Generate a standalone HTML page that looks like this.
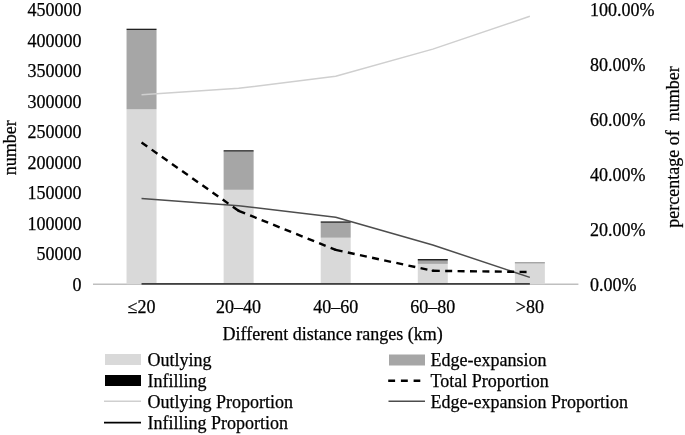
<!DOCTYPE html>
<html><head><meta charset="utf-8"><style>
html,body{margin:0;padding:0;background:#fff;width:685px;height:435px;overflow:hidden}
svg{display:block;will-change:transform}
text{font-family:"Liberation Serif",serif;font-size:18px;fill:#000;stroke:#000;stroke-width:0.25px}
</style></head><body>
<svg width="685" height="435" viewBox="0 0 685 435">
<line x1="93.0" y1="284.2" x2="578.4" y2="284.2" stroke="#bfbfbf" stroke-width="1.5"/>
<rect x="126.54" y="109.30" width="30.00" height="174.90" fill="#d9d9d9"/>
<rect x="126.54" y="30.00" width="30.00" height="79.30" fill="#a6a6a6"/>
<rect x="126.54" y="28.70" width="30.00" height="1.30" fill="#222"/>
<rect x="223.62" y="189.80" width="30.00" height="94.40" fill="#d9d9d9"/>
<rect x="223.62" y="151.60" width="30.00" height="38.20" fill="#a6a6a6"/>
<rect x="223.62" y="150.20" width="30.00" height="1.40" fill="#222"/>
<rect x="320.70" y="237.70" width="30.00" height="46.50" fill="#d9d9d9"/>
<rect x="320.70" y="222.80" width="30.00" height="14.90" fill="#a6a6a6"/>
<rect x="320.70" y="221.40" width="30.00" height="1.40" fill="#222"/>
<rect x="417.78" y="263.90" width="30.00" height="20.30" fill="#d9d9d9"/>
<rect x="417.78" y="260.60" width="30.00" height="3.30" fill="#a6a6a6"/>
<rect x="417.78" y="259.00" width="30.00" height="1.60" fill="#222"/>
<rect x="514.86" y="263.60" width="30.00" height="20.60" fill="#d9d9d9"/>
<rect x="514.86" y="262.00" width="30.00" height="1.60" fill="#a6a6a6"/>
<path d="M141.54,94.70 L238.62,88.30 L335.70,76.20 L432.78,49.10 L529.86,16.30" fill="none" stroke-linejoin="round" stroke="#cfcfcf" stroke-width="1.5"/>
<path d="M141.54,198.60 L238.62,205.70 L335.70,217.20 L432.78,245.00 L529.86,277.40" fill="none" stroke-linejoin="round" stroke="#4d4d4d" stroke-width="1.5"/>
<line x1="141.54" y1="142.50" x2="238.62" y2="210.80" stroke="#000" stroke-width="2.4" stroke-dasharray="7,5.4"/>
<line x1="238.62" y1="210.80" x2="335.70" y2="249.90" stroke="#000" stroke-width="2.4" stroke-dasharray="7,5.4"/>
<line x1="335.70" y1="249.90" x2="432.78" y2="270.80" stroke="#000" stroke-width="2.4" stroke-dasharray="7,5.4"/>
<line x1="432.78" y1="270.80" x2="529.86" y2="272.00" stroke="#000" stroke-width="2.4" stroke-dasharray="7,5.4"/>
<circle cx="238.62" cy="210.80" r="1.2" fill="#000"/>
<circle cx="335.70" cy="249.90" r="1.2" fill="#000"/>
<circle cx="432.78" cy="270.80" r="1.2" fill="#000"/>
<path d="M141.54,283.90 L238.62,283.90 L335.70,283.90 L432.78,283.90 L529.86,283.90" fill="none" stroke-linejoin="round" stroke="#404040" stroke-width="1.6"/>
<text x="81.6" y="10.10" text-anchor="end" dominant-baseline="central">450000</text>
<text x="81.6" y="40.60" text-anchor="end" dominant-baseline="central">400000</text>
<text x="81.6" y="71.10" text-anchor="end" dominant-baseline="central">350000</text>
<text x="81.6" y="101.60" text-anchor="end" dominant-baseline="central">300000</text>
<text x="81.6" y="132.10" text-anchor="end" dominant-baseline="central">250000</text>
<text x="81.6" y="162.60" text-anchor="end" dominant-baseline="central">200000</text>
<text x="81.6" y="193.10" text-anchor="end" dominant-baseline="central">150000</text>
<text x="81.6" y="223.60" text-anchor="end" dominant-baseline="central">100000</text>
<text x="81.6" y="254.10" text-anchor="end" dominant-baseline="central">50000</text>
<text x="81.6" y="284.60" text-anchor="end" dominant-baseline="central">0</text>
<text x="589.9" y="10.20" dominant-baseline="central">100.00%</text>
<text x="589.9" y="65.10" dominant-baseline="central">80.00%</text>
<text x="589.9" y="120.00" dominant-baseline="central">60.00%</text>
<text x="589.9" y="174.90" dominant-baseline="central">40.00%</text>
<text x="589.9" y="229.80" dominant-baseline="central">20.00%</text>
<text x="589.9" y="284.70" dominant-baseline="central">0.00%</text>
<text x="141.54" y="313.2" text-anchor="middle">&#8804;20</text>
<text x="238.62" y="313.2" text-anchor="middle">20&#8211;40</text>
<text x="335.70" y="313.2" text-anchor="middle">40&#8211;60</text>
<text x="432.78" y="313.2" text-anchor="middle">60&#8211;80</text>
<text x="529.86" y="313.2" text-anchor="middle">&gt;80</text>
<text x="332.6" y="339.5" text-anchor="middle">Different distance ranges (km)</text>
<text transform="translate(15.9,147.7) rotate(-90)" text-anchor="middle" style="font-size:18px">number</text>
<text transform="translate(678.9,147.0) rotate(-90)" text-anchor="middle" xml:space="preserve" style="font-size:18px">percentage of  number</text>
<rect x="105" y="354" width="36" height="11" fill="#d9d9d9"/>
<text x="147.5" y="365.5">Outlying</text>
<rect x="105" y="375" width="36" height="11" fill="#000"/>
<text x="147.5" y="386.5">Infilling</text>
<line x1="104" y1="401.3" x2="141" y2="401.3" stroke="#cfcfcf" stroke-width="1.5"/>
<text x="147.5" y="407.5">Outlying Proportion</text>
<line x1="104" y1="422.6" x2="141" y2="422.6" stroke="#000" stroke-width="1.8"/>
<text x="147.5" y="428.5">Infilling Proportion</text>
<rect x="389" y="354.5" width="36" height="11" fill="#a6a6a6"/>
<text x="430.5" y="365.5">Edge-expansion</text>
<line x1="388.2" y1="380.7" x2="420.3" y2="380.7" stroke="#000" stroke-width="2.4" stroke-dasharray="6.9,5.8"/>
<text x="430.5" y="386.5">Total Proportion</text>
<line x1="388.5" y1="401.3" x2="425" y2="401.3" stroke="#4d4d4d" stroke-width="1.5"/>
<text x="430.5" y="407.5">Edge-expansion Proportion</text>
</svg>
</body></html>
